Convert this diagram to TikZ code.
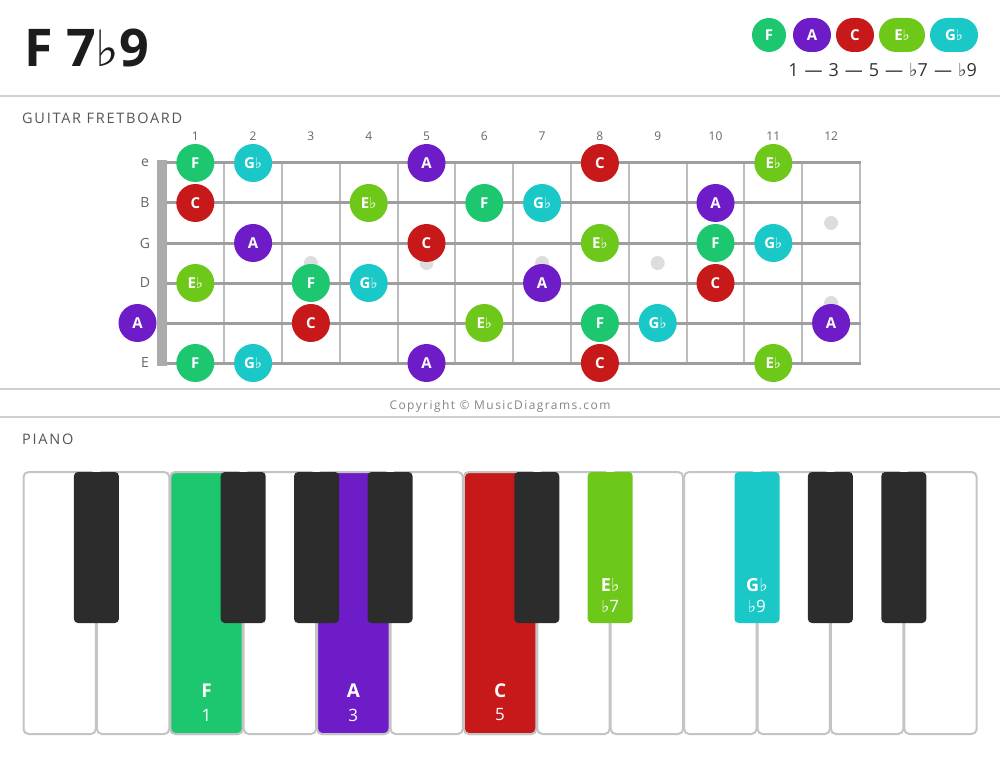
\documentclass[tikz,border=0pt]{standalone}
\usepackage{fontspec}
\setmainfont{Open Sans}
\newfontfamily\symf{DejaVu Sans}
\newcommand\fl{{\symf ♭}}
\definecolor{fcol}{HTML}{1CC76F}
\definecolor{acol}{HTML}{6E1BC8}
\definecolor{ccol}{HTML}{C8191A}
\definecolor{ecol}{HTML}{6DC81A}
\definecolor{gcol}{HTML}{1AC8C8}
\definecolor{keyblk}{HTML}{2C2C2C}
\definecolor{keyedge}{HTML}{C4C4C4}
\definecolor{divgray}{HTML}{D0D0D0}
\definecolor{strgray}{HTML}{9E9E9E}
\definecolor{fretgray}{HTML}{BDBDBD}
\definecolor{nutgray}{HTML}{ABABAB}
\definecolor{dotgray}{HTML}{DDDDDD}
\definecolor{lblgray}{HTML}{666666}
\definecolor{headgray}{HTML}{555555}
\definecolor{txtdark}{HTML}{1C1C1C}
\newcommand\fsz[1]{\fontsize{#1}{#1}\selectfont}
\newcommand\fbn[5]{\node[fbnote,fill=#3] (#5) at ({166.4+57.8*(#1-0.5)},{163+40*(#2)}) {#4};}
\begin{document}
\begin{tikzpicture}[x=1pt,y=-1pt,
  fbnote/.style={circle,minimum size=38pt,inner sep=0pt,text=white,font=\fsz{15}\bfseries},
  legpill/.style={rounded corners=17pt,minimum height=34pt,inner sep=0pt,text=white,font=\fsz{15}\bfseries},
  fretnum/.style={text=lblgray,font=\fsz{12},inner sep=0pt},
  strlbl/.style={text=lblgray,font=\fsz{14},inner sep=0pt},
  heading/.style={text=headgray,font=\fsz{14.5}\addfontfeature{LetterSpace=12},inner sep=0pt,anchor=west},
  divider/.style={draw=divgray,line width=2pt},
  whitekey/.style={draw=keyedge,line width=2pt,rounded corners=5pt},
  blackkey/.style={fill=keyblk,rounded corners=4pt},
  keyname/.style={text=white,font=\fsz{19}\bfseries,inner sep=0pt},
  keydeg/.style={text=white,font=\fsz{17},inner sep=0pt},
  fbdot/.style={circle,fill=dotgray,minimum size=14pt,inner sep=0pt}]
\useasboundingbox (0,0) rectangle (1000,759);
\fill[white] (0,0) rectangle (1000,759);

% title
\node[anchor=base west,inner sep=0pt,text=txtdark,font=\fsz{52}\bfseries] (title) at (24,67) {F 7{\symf\fontsize{50}{50}\selectfont\mdseries ♭}9};

% legend
\node[legpill,fill=fcol,minimum width=34pt] (lF) at (769,35) {F};
\node[legpill,fill=acol,minimum width=38pt] (lA) at (812,35) {A};
\node[legpill,fill=ccol,minimum width=38pt] (lC) at (855,35) {C};
\node[legpill,fill=ecol,minimum width=46pt] (lE) at (902,35) {E\fl};
\node[legpill,fill=gcol,minimum width=48pt] (lG) at (954,35) {G\fl};
\node[anchor=base east,inner sep=0pt,text=txtdark!90,font=\fsz{18}] (ldeg) at (977,77) {\spaceskip=6pt 1 — 3 — 5 — \fl7 — \fl9};

% dividers
\draw[divider] (0,96) -- (1000,96);
\draw[divider] (0,389) -- (1000,389);
\draw[divider] (0,417) -- (1000,417);

\node[heading] (hg) at (22,118) {GUITAR FRETBOARD};
\node[heading] (hp) at (22,439) {PIANO};
\node[inner sep=0pt,text=lblgray!80,font=\fsz{12}\addfontfeature{LetterSpace=12}] (copy) at (500,406) {Copyright © MusicDiagrams.com};

% fretboard
\foreach \k in {1,...,12} {
  \draw[fretgray,line width=2pt] ({166.4+57.8*\k},163) -- ({166.4+57.8*\k},363);
  \node[fretnum] (fn\k) at ({166.4+57.8*(\k-0.5)},136) {\k};
}
\foreach \s in {0,...,5} {
  \draw[strgray,line width=3pt] (160,{163+40*\s}) -- (861,{163+40*\s});
}
\foreach \s/\l in {0/e,1/B,2/G,3/D,5/E} {
  \node[strlbl] (sl\s) at (145,{163+40*\s}) {\l};
}
\fill[nutgray] (157,160) rectangle (167,366);
\foreach \f/\yy [count=\i] in {3/263,5/263,7/263,9/263,12/223,12/303} {
  \node[fbdot] (dot\i) at ({166.4+57.8*(\f-0.5)},\yy) {};
}

% e string
\fbn{1}{0}{fcol}{F}{e1}
\fbn{2}{0}{gcol}{G\fl}{e2}
\fbn{5}{0}{acol}{A}{e5}
\fbn{8}{0}{ccol}{C}{e8}
\fbn{11}{0}{ecol}{E\fl}{e11}
% B string
\fbn{1}{1}{ccol}{C}{b1}
\fbn{4}{1}{ecol}{E\fl}{b4}
\fbn{6}{1}{fcol}{F}{b6}
\fbn{7}{1}{gcol}{G\fl}{b7}
\fbn{10}{1}{acol}{A}{b10}
% G string
\fbn{2}{2}{acol}{A}{g2}
\fbn{5}{2}{ccol}{C}{g5}
\fbn{8}{2}{ecol}{E\fl}{g8}
\fbn{10}{2}{fcol}{F}{g10}
\fbn{11}{2}{gcol}{G\fl}{g11}
% D string
\fbn{1}{3}{ecol}{E\fl}{d1}
\fbn{3}{3}{fcol}{F}{d3}
\fbn{4}{3}{gcol}{G\fl}{d4}
\fbn{7}{3}{acol}{A}{d7}
\fbn{10}{3}{ccol}{C}{d10}
% A string
\fbn{0}{4}{acol}{A}{a0}
\fbn{3}{4}{ccol}{C}{a3}
\fbn{6}{4}{ecol}{E\fl}{a6}
\fbn{8}{4}{fcol}{F}{a8}
\fbn{9}{4}{gcol}{G\fl}{a9}
\fbn{12}{4}{acol}{A}{a12}
% low E string
\fbn{1}{5}{fcol}{F}{l1}
\fbn{2}{5}{gcol}{G\fl}{l2}
\fbn{5}{5}{acol}{A}{l5}
\fbn{8}{5}{ccol}{C}{l8}
\fbn{11}{5}{ecol}{E\fl}{l11}

% piano white keys
\foreach \i in {0,...,12} {
  \draw[whitekey,fill=white] ({23+73.4*\i+0.5},472) rectangle ({23+73.4*(\i+1)-0.5},734);
}
\draw[whitekey,fill=fcol] ({23+73.4*2+0.5},472) rectangle ({23+73.4*3-0.5},734);
\draw[whitekey,fill=acol] ({23+73.4*4+0.5},472) rectangle ({23+73.4*5-0.5},734);
\draw[whitekey,fill=ccol] ({23+73.4*6+0.5},472) rectangle ({23+73.4*7-0.5},734);
% black keys
\foreach \i in {1,3,4,5,7,11,12} {
  \fill[blackkey] ({23+73.4*\i-22.5},472) rectangle ({23+73.4*\i+22.5},623);
}
\fill[blackkey,fill=ecol] ({23+73.4*8-22.5},472) rectangle ({23+73.4*8+22.5},623);
\fill[blackkey,fill=gcol] ({23+73.4*10-22.5},472) rectangle ({23+73.4*10+22.5},623);

% key labels
\node[keyname] (kF) at ({23+73.4*2.5},691) {F};
\node[keydeg] (kF1) at ({23+73.4*2.5},715) {1};
\node[keyname] (kA) at ({23+73.4*4.5},691) {A};
\node[keydeg] (kA3) at ({23+73.4*4.5},715) {3};
\node[keyname] (kC) at ({23+73.4*6.5},691) {C};
\node[keydeg] (kC5) at ({23+73.4*6.5},715) {5};
\node[keyname,font=\fsz{18}\bfseries] (kE) at ({23+73.4*8},585) {E\fl};
\node[keydeg] (kE7) at ({23+73.4*8},606) {\fl7};
\node[keyname,font=\fsz{18}\bfseries] (kG) at ({23+73.4*10},585) {G\fl};
\node[keydeg] (kG9) at ({23+73.4*10},606) {\fl9};
\end{tikzpicture}
\end{document}
